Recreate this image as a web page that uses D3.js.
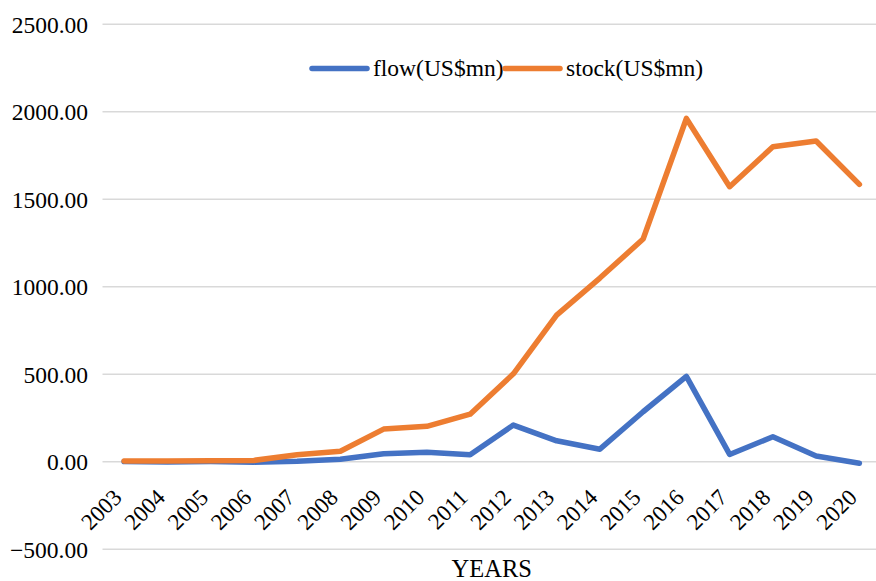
<!DOCTYPE html>
<html>
<head>
<meta charset="utf-8">
<script src="https://cdn.jsdelivr.net/npm/d3@7"></script>
<style>
  html, body { margin: 0; padding: 0; background: #fff; }
  svg { display: block; }
  svg text { font-family: "Liberation Serif", "Times New Roman", Times, serif; }
</style>
</head>
<body>
<svg id="chart" width="876" height="581"></svg>
<script>
// Years on the category axis
const years = ["2003","2004","2005","2006","2007","2008","2009","2010","2011",
               "2012","2013","2014","2015","2016","2017","2018","2019","2020"];
// Annual flow, US$ million
const flow = [1, -1, 1, -2, 3, 14, 46, 55, 40, 210, 120, 72, 286, 488, 42, 143, 33, -8];
// Cumulative stock, US$ million
const stock = [5, 5, 6, 8, 40, 60, 187, 203, 272, 503, 838, 1050, 1273, 1962, 1572, 1800, 1833, 1585];
// Value axis ticks
const yTicks = [-500, 0, 500, 1000, 1500, 2000, 2500];

const seriesNames = ["flow(US$mn)", "stock(US$mn)"];
const seriesColors = ["#4472C4", "#ED7D31"];

const svg = d3.select("#chart");
const margin = { left: 102.5, right: -5, top: 24.3, bottom: 31.7 };
const W = 876, H = 581;

const x = d3.scaleBand().domain(years)
  .range([margin.left, W - margin.right]).padding(0);
const y = d3.scaleLinear().domain([-500, 2500])
  .range([H - margin.bottom, margin.top]);

// Horizontal gridlines
svg.append("g").selectAll("line").data(yTicks).join("line")
  .attr("x1", margin.left).attr("x2", W - margin.right)
  .attr("y1", d => y(d)).attr("y2", d => y(d))
  .attr("stroke", "#d9d9d9").attr("stroke-width", 1.5);

// Value axis labels
svg.append("g").selectAll("text").data(yTicks).join("text")
  .attr("x", 88).attr("y", d => y(d)).attr("dy", "0.35em")
  .attr("text-anchor", "end")
  .attr("font-size", 23.5).attr("fill", "#000")
  .text(d => d3.format(".2f")(d));

// Category labels, rotated
const cx = d => x(d) + x.bandwidth() / 2;
svg.append("g").selectAll("text").data(years).join("text")
  .attr("transform", d => `translate(${cx(d) - 1},${y(0) + 37}) rotate(-45)`)
  .attr("text-anchor", "end")
  .attr("font-size", 23).attr("fill", "#000")
  .text(d => d);

// Axis title
svg.append("text")
  .attr("x", (margin.left + W - margin.right) / 2).attr("y", 577)
  .attr("text-anchor", "middle")
  .attr("font-size", 24.5).attr("fill", "#000")
  .text("YEARS");

// Series lines
const line = d3.line().x((d, i) => cx(years[i])).y(d => y(d));
[flow, stock].forEach((vals, k) => {
  svg.append("path").datum(vals)
    .attr("d", line)
    .attr("fill", "none")
    .attr("stroke", seriesColors[k])
    .attr("stroke-width", 5.5)
    .attr("stroke-linejoin", "round")
    .attr("stroke-linecap", "round");
});

// Legend
const legendItems = [
  { x: 312, name: seriesNames[0], color: seriesColors[0] },
  { x: 505, name: seriesNames[1], color: seriesColors[1] }
];
const lg = svg.append("g");
legendItems.forEach(it => {
  lg.append("line")
    .attr("x1", it.x).attr("x2", it.x + 55)
    .attr("y1", 68.5).attr("y2", 68.5)
    .attr("stroke", it.color).attr("stroke-width", 5.5)
    .attr("stroke-linecap", "round");
  lg.append("text")
    .attr("x", it.x + 61).attr("y", 76)
    .attr("font-size", 23.5).attr("fill", "#000")
    .text(it.name);
});
</script>
</body>
</html>
